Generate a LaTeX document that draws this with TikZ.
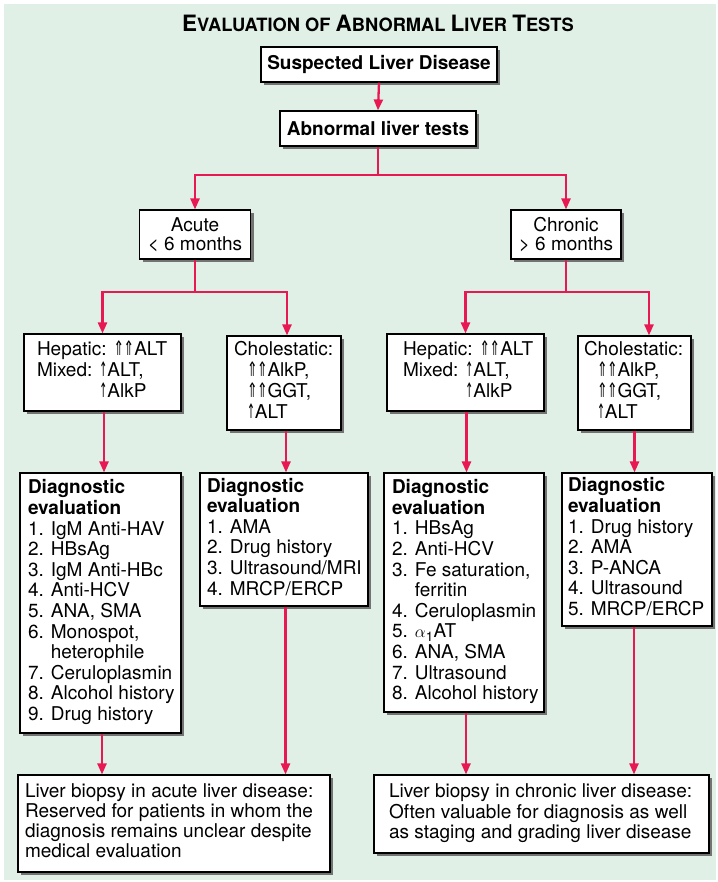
\documentclass[tikz,border=0pt]{standalone}
\usepackage{fontspec}
\usepackage{graphicx}
\setmainfont{TeX Gyre Heros}
\newfontfamily\arrowfont{DejaVu Sans}
\usetikzlibrary{shadows,arrows.meta}
\definecolor{bgc}{RGB}{224,240,230}
\definecolor{arc}{RGB}{232,24,82}
\definecolor{shd}{RGB}{115,115,115}
\newcommand\myUp{\scalebox{0.66}[1.05]{\arrowfont ⇑}}
\newcommand\myUU{\myUp\hspace{-0.5pt}\myUp}
\newcommand\myU{\scalebox{0.5}[1.05]{\arrowfont ↑}}
\newcommand\bigc[1]{{\fontsize{22.5}{22}\selectfont #1}}
\newcommand\boxtext[3]{\makebox[#1][l]{\hspace*{#2}\begin{tabular}{@{}l@{}}#3\end{tabular}}}
\tikzset{
  box/.style={draw=black, line width=1.1pt, fill=white,
    drop shadow={shadow xshift=3pt, shadow yshift=-3pt, fill=shd, opacity=1},
    inner sep=0pt, font=\fontsize{19}{20.6}\selectfont},
  headbox/.style={box, font=\bfseries\fontsize{19}{20}\selectfont},
  ctrbox/.style={box, align=center, font=\fontsize{19}{19.5}\selectfont},
  biobox/.style={box, font=\fontsize{19}{20}\selectfont},
  conn/.style={draw=arc, line width=2.3pt},
  arrow/.style={conn, -{Triangle[length=11pt,width=9pt]}},
}
\begin{document}
\begin{tikzpicture}[x=1pt,y=-1pt]
\useasboundingbox (0,0) rectangle (717,882);
\fill[bgc] (4,4) rectangle (716,880);

\node[anchor=base, font=\bfseries\fontsize{18.3}{18}\selectfont] (title) at (378,32)
  {\bigc{E}VALUATION OF \bigc{A}BNORMAL \bigc{L}IVER \bigc{T}ESTS};

\node[headbox, minimum width=236pt, minimum height=35pt] (susp) at (379,64.5) {Suspected Liver Disease};
\node[headbox, minimum width=196pt, minimum height=35pt] (abn) at (378,128.5) {Abnormal liver tests};

\node[ctrbox, minimum width=111pt, minimum height=49pt] (acute) at (195,234.5) {Acute\\< 6 months};
\node[ctrbox, minimum width=110pt, minimum height=49pt] (chronic) at (566,234.5) {Chronic\\> 6 months};

\node[box, minimum width=157pt, minimum height=77pt] (hepL) at (102.5,372.5)
  {\boxtext{157pt}{13pt}{Hepatic: \myUU ALT\\Mixed: \myU ALT,\\\phantom{Mixed: }\myU AlkP}};
\node[box, minimum width=114pt, minimum height=94pt] (cholL) at (284,383)
  {\boxtext{114pt}{7pt}{Cholestatic:\\\hspace*{13pt}\myUU AlkP,\\\hspace*{13pt}\myUU GGT,\\\hspace*{13pt}\myU ALT}};
\node[box, minimum width=157pt, minimum height=77pt] (hepR) at (465.5,372.5)
  {\boxtext{157pt}{16pt}{Hepatic: \myUU ALT\\Mixed: \myU ALT,\\\phantom{Mixed: }\myU AlkP}};
\node[box, minimum width=113pt, minimum height=94pt] (cholR) at (634.5,383)
  {\boxtext{113pt}{6pt}{Cholestatic:\\\hspace*{13pt}\myUU AlkP,\\\hspace*{13pt}\myUU GGT,\\\hspace*{13pt}\myU ALT}};

\node[box, minimum width=161pt, minimum height=260pt] (diag1) at (100.5,603)
  {\boxtext{161pt}{8pt}{\textbf{Diagnostic}\\\textbf{evaluation}\\1. IgM Anti-HAV\\2. HBsAg\\3. IgM Anti-HBc\\4. Anti-HCV\\5. ANA, SMA\\6. Monospot,\\\phantom{6. }heterophile\\7. Ceruloplasmin\\8. Alcohol history\\9. Drug history}};
\node[box, minimum width=168pt, minimum height=133pt] (diag2) at (284,539.5)
  {\boxtext{168pt}{7pt}{\textbf{Diagnostic}\\\textbf{evaluation}\\1. AMA\\2. Drug history\\3. Ultrasound/MRI\\4. MRCP/ERCP}};
\node[box, minimum width=160pt, minimum height=239pt] (diag3) at (464,592.5)
  {\boxtext{160pt}{8pt}{\textbf{Diagnostic}\\\textbf{evaluation}\\1. HBsAg\\2. Anti-HCV\\3. Fe saturation,\\\phantom{3. }ferritin\\4. Ceruloplasmin\\5. $\alpha$\textsubscript{1}AT\\6. ANA, SMA\\7. Ultrasound\\8. Alcohol history}};
\node[box, minimum width=150pt, minimum height=153pt] (diag4) at (637,549.5)
  {\boxtext{150pt}{6pt}{\textbf{Diagnostic}\\\textbf{evaluation}\\1. Drug history\\2. AMA\\3. P-ANCA\\4. Ultrasound\\5. MRCP/ERCP}};

\node[biobox, minimum width=312pt, minimum height=97pt] (bioL) at (174,823.5)
  {\boxtext{312pt}{7pt}{Liver biopsy in acute liver disease:\\Reserved for patients in whom the\\diagnosis remains unclear despite\\medical evaluation}};
\node[biobox, minimum width=335pt, minimum height=78pt] (bioR) at (541.5,814)
  {\boxtext{335pt}{15pt}{Liver biopsy in chronic liver disease:\\Often valuable for diagnosis as well\\as staging and grading liver disease}};

% connectors
\coordinate (j0) at (378,175);
\coordinate (j1) at (195,292);
\coordinate (j2) at (566,292);
\draw[arrow] (susp.south) -- (abn.north);
\draw[conn] (abn.south) -- (j0);
\draw[arrow] (j0) -| (acute.north);
\draw[arrow] (j0) -| (chronic.north);
\draw[conn] (acute.south) -- (j1);
\draw[arrow] (j1) -| (hepL.north);
\draw[arrow] (j1) -| ([xshift=3pt]cholL.north);
\draw[conn] (chronic.south) -- (j2);
\draw[arrow] (j2) -| (hepR.north);
\draw[arrow] (j2) -| ([xshift=14.5pt]cholR.north);
\draw[arrow] ([xshift=1.5pt]hepL.south) -- ([xshift=1.5pt]hepL.south |- diag1.north);
\draw[arrow] ([xshift=2pt]cholL.south) -- ([xshift=2pt]cholL.south |- diag2.north);
\draw[arrow] ([xshift=1pt]hepR.south) -- ([xshift=1pt]hepR.south |- diag3.north);
\draw[arrow] (cholR.south) -- (cholR.south |- diag4.north);
\draw[arrow] ([xshift=1.5pt]diag1.south) -- ([xshift=1.5pt]diag1.south |- bioL.north);
\draw[arrow] ([xshift=1.5pt]diag2.south) -- ([xshift=1.5pt]diag2.south |- bioL.north);
\draw[arrow] ([xshift=2pt]diag3.south) -- ([xshift=2pt]diag3.south |- bioR.north);
\draw[arrow] ([xshift=-3pt]diag4.south) -- ([xshift=-3pt]diag4.south |- bioR.north);
\end{tikzpicture}
\end{document}
